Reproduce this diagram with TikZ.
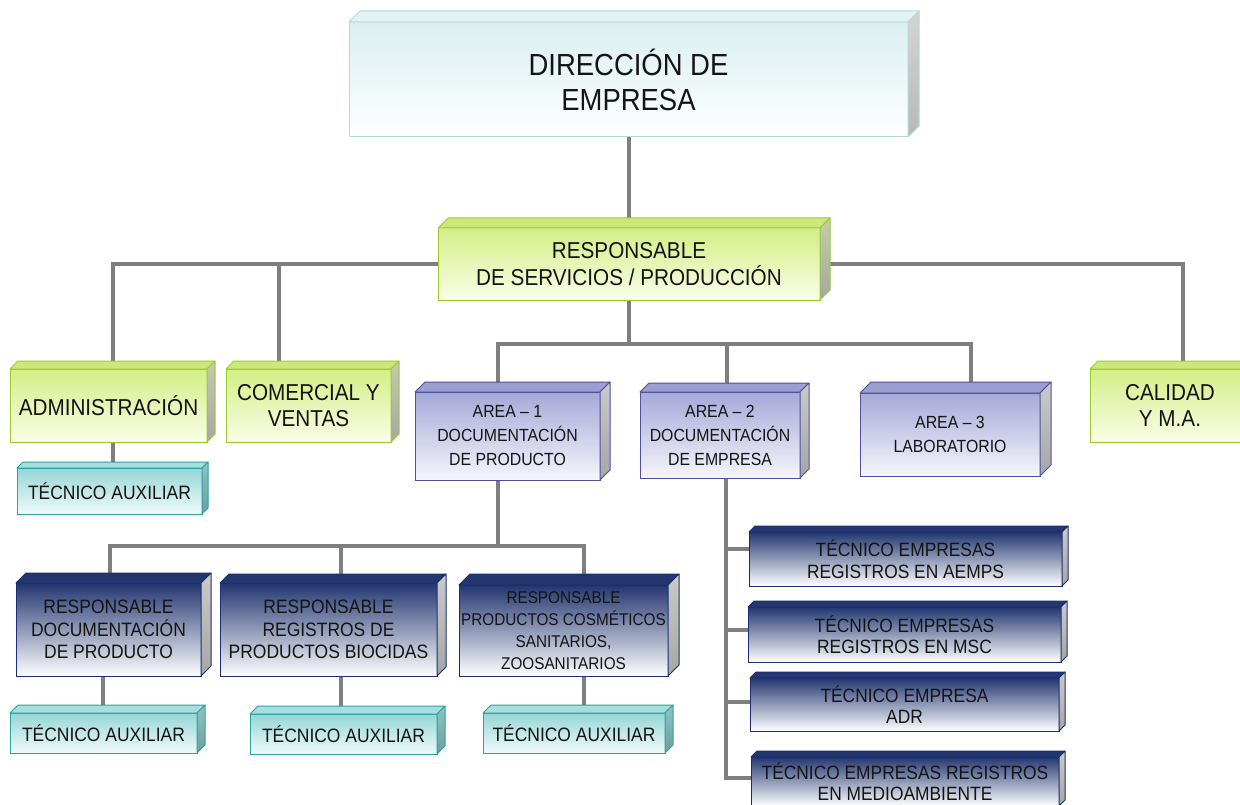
\documentclass[tikz,border=0pt]{standalone}
\usepackage{fontspec}
\setmainfont{Liberation Sans}[FakeStretch=0.9]
\usetikzlibrary{backgrounds}
\definecolor{connc}{HTML}{7F7F7F}
\definecolor{txt}{HTML}{141414}
\definecolor{topline}{HTML}{B4D8DC}
\definecolor{topfill}{HTML}{DAEFF1}
\definecolor{toptop}{HTML}{E2F3F4}
\definecolor{grline}{HTML}{9CCC2A}
\definecolor{grfill}{HTML}{D4EE86}
\definecolor{grbot}{HTML}{FAFDE8}
\definecolor{grtop}{HTML}{CDE87A}
\definecolor{grside}{HTML}{C4CCAC}
\definecolor{teline}{HTML}{2AA3A3}
\definecolor{tefill}{HTML}{95D6D6}
\definecolor{tebot}{HTML}{F0FAFA}
\definecolor{tetop}{HTML}{A8DEDE}
\definecolor{teside}{HTML}{8CC4C4}
\definecolor{puline}{HTML}{50509C}
\definecolor{pufill}{HTML}{A6A8D8}
\definecolor{pubot}{HTML}{F6F6FC}
\definecolor{putop}{HTML}{9C9ED0}
\definecolor{daline}{HTML}{1C2E73}
\definecolor{dafill}{HTML}{223670}
\definecolor{damid}{HTML}{9AA6C6}
\definecolor{datop}{HTML}{23366E}
\definecolor{sideA}{HTML}{CACACA}
\definecolor{sideB}{HTML}{A6A6A6}
\tikzset{
  conn/.style={draw=connc, line width=4pt},
  cubebase/.style={inner sep=0pt, outer sep=0pt, align=center, text=txt, line width=1pt},
  facebase/.style={line width=1pt, line join=round},
  topb/.style={cubebase, draw=topline, top color=topfill, bottom color=white},
  topbtop/.style={facebase, draw=topline, fill=toptop},
  topbside/.style={facebase, draw=topline, top color=sideA!80, bottom color=sideB!80},
  gb/.style={cubebase, draw=grline, top color=grfill, bottom color=grbot},
  gbtop/.style={facebase, draw=grline, fill=grtop},
  gbside/.style={facebase, draw=grline, top color=grside, bottom color=sideB},
  tb/.style={cubebase, draw=teline, top color=tefill, bottom color=tebot},
  tbtop/.style={facebase, draw=teline, fill=tetop},
  tbside/.style={facebase, draw=teline, top color=teside, bottom color=teside!80!black},
  pb/.style={cubebase, draw=puline, top color=pufill, bottom color=pubot},
  pbtop/.style={facebase, draw=puline, fill=putop},
  pbside/.style={facebase, draw=puline, top color=sideA, bottom color=sideB},
  db/.style={cubebase, draw=daline, top color=dafill, middle color=damid, bottom color=white},
  dbtop/.style={facebase, draw=daline, fill=datop},
  dbside/.style={facebase, draw=daline, top color=sideA, bottom color=sideB},
  fA/.style={font=\fontsize{30.5}{35}\selectfont},
  fB/.style={font=\fontsize{23}{26.5}\selectfont},
  fC/.style={font=\fontsize{19.4}{22.5}\selectfont},
  fD/.style={font=\fontsize{17.6}{24}\selectfont},
  fE/.style={font=\fontsize{17}{22}\selectfont},
  fF/.style={font=\fontsize{19.3}{21.5}\selectfont},
}
% #1 style, #2 font, #3 name, #4 x1, #5 y1, #6 x2, #7 y2, #8 depth, #9 text
\newcommand\Cube[9]{%
  \node[#1, #2, anchor=north west, minimum width={#6-#4}, minimum height={#7-#5}] (#3) at (#4,#5) {#9};
  \path[#1top] (#3.north west) -- ++(#8,-#8) -- ([shift={(#8,-#8)}]#3.north east) -- (#3.north east) -- cycle;
  \path[#1side] (#3.north east) -- ([shift={(#8,-#8)}]#3.north east) -- ([shift={(#8,-#8)}]#3.south east) -- (#3.south east) -- cycle;
}
\begin{document}
\begin{tikzpicture}[x=1pt,y=-1pt]
\useasboundingbox (0,0) rectangle (1240,805);

\Cube{topb}{fA}{dir}{349}{22}{908}{137}{11}{DIRECCIÓN DE\\EMPRESA}
\Cube{gb}{fB}{resp}{438}{228}{820}{300}{10}{RESPONSABLE\\DE SERVICIOS / PRODUCCIÓN}
\Cube{gb}{fB}{adm}{10}{369}{207}{442}{8}{ADMINISTRACIÓN}
\Cube{gb}{fB}{com}{226}{369}{391}{442}{8}{COMERCIAL Y\\VENTAS}
\Cube{gb}{fB}{cal}{1090}{369}{1250}{442}{8}{CALIDAD\\Y M.A.}
\Cube{tb}{fC}{tec0}{17}{468}{202}{514}{6}{TÉCNICO AUXILIAR}
\Cube{pb}{fD}{a1}{415}{392}{600}{480}{10}{AREA – 1\\DOCUMENTACIÓN\\DE PRODUCTO}
\Cube{pb}{fD}{a2}{640}{392}{800}{478}{9}{AREA – 2\\DOCUMENTACIÓN\\DE EMPRESA}
\Cube{pb}{fD}{a3}{860}{393}{1040}{476}{11}{AREA – 3\\LABORATORIO}
\Cube{db}{fC}{d1}{16}{583}{201}{676}{10}{RESPONSABLE\\DOCUMENTACIÓN\\DE PRODUCTO}
\Cube{db}{fC}{d2}{220}{583}{437}{676}{9}{RESPONSABLE\\REGISTROS DE\\PRODUCTOS BIOCIDAS}
\Cube{db}{fE}{d3}{459}{585}{668}{676}{11}{RESPONSABLE\\PRODUCTOS COSMÉTICOS\\SANITARIOS,\\ZOOSANITARIOS}
\Cube{tb}{fC}{t1}{10}{713}{197}{753}{8}{TÉCNICO AUXILIAR}
\Cube{tb}{fC}{t2}{250}{714}{437}{754}{8}{TÉCNICO AUXILIAR}
\Cube{tb}{fC}{t3}{483}{713}{665}{753}{8}{TÉCNICO AUXILIAR}
\Cube{db}{fF}{b1}{749}{532}{1062}{586}{6}{TÉCNICO EMPRESAS\\REGISTROS EN AEMPS}
\Cube{db}{fF}{b2}{748}{607}{1061}{662}{6}{TÉCNICO EMPRESAS\\REGISTROS EN MSC}
\Cube{db}{fF}{b3}{750}{678}{1059}{731}{6}{TÉCNICO EMPRESA\\ADR}
\Cube{db}{fF}{b4}{751}{757}{1059}{806}{6}{TÉCNICO EMPRESAS REGISTROS\\EN MEDIOAMBIENTE}

\begin{pgfonlayer}{background}
\fill[white] (0,0) rectangle (1240,805);
\draw[conn] (dir.south) -- (dir.south |- resp.north);
\draw[conn] ([xshift=4.5]adm.north) |- (resp.west);
\draw[conn] ([xshift=-30]com.north) |- (resp.west);
\draw[conn] ([xshift=13]cal.north) |- (resp.east);
\draw[conn] ([xshift=4.5]adm.south) -- ([xshift=4.5]adm.south |- tec0.north);
\coordinate (j2) at ([yshift=-44]resp.south);
\draw[conn] (resp.south) -- (j2);
\draw[conn] ([xshift=-9.5]a1.north) |- (j2) -| ([xshift=21]a3.north);
\draw[conn] ([xshift=7]a2.north) -- ([xshift=7]a2.north |- j2);
\coordinate (j3) at ([xshift=-9.5,yshift=-66]a1.south);
\draw[conn] ([xshift=-9.5]a1.south) -- (j3);
\draw[conn] ([xshift=1.5]d1.north) |- (j3) -| ([xshift=20.5]d3.north);
\draw[conn] ([xshift=12.5]d2.north) -- ([xshift=12.5]d2.north |- j3);
\draw[conn] ([xshift=-5.5]d1.south) -- ([xshift=-5.5]d1.south |- t1.north);
\draw[conn] ([xshift=12.5]d2.south) -- ([xshift=12.5]d2.south |- t2.north);
\draw[conn] ([xshift=20.5]d3.south) -- ([xshift=20.5]d3.south |- t3.north);
\coordinate (v) at ([xshift=6]a2.south);
\coordinate (e1) at ([yshift=10]b1.west);
\coordinate (e2) at ([yshift=5]b2.west);
\coordinate (e3) at ([yshift=2.5]b3.west);
\coordinate (e4) at ([yshift=4]b4.west);
\draw[conn] (v) |- (e4);
\draw[conn] (e1) -- (e1 -| v);
\draw[conn] (e2) -- (e2 -| v);
\draw[conn] (e3) -- (e3 -| v);
\end{pgfonlayer}
\end{tikzpicture}
\end{document}
